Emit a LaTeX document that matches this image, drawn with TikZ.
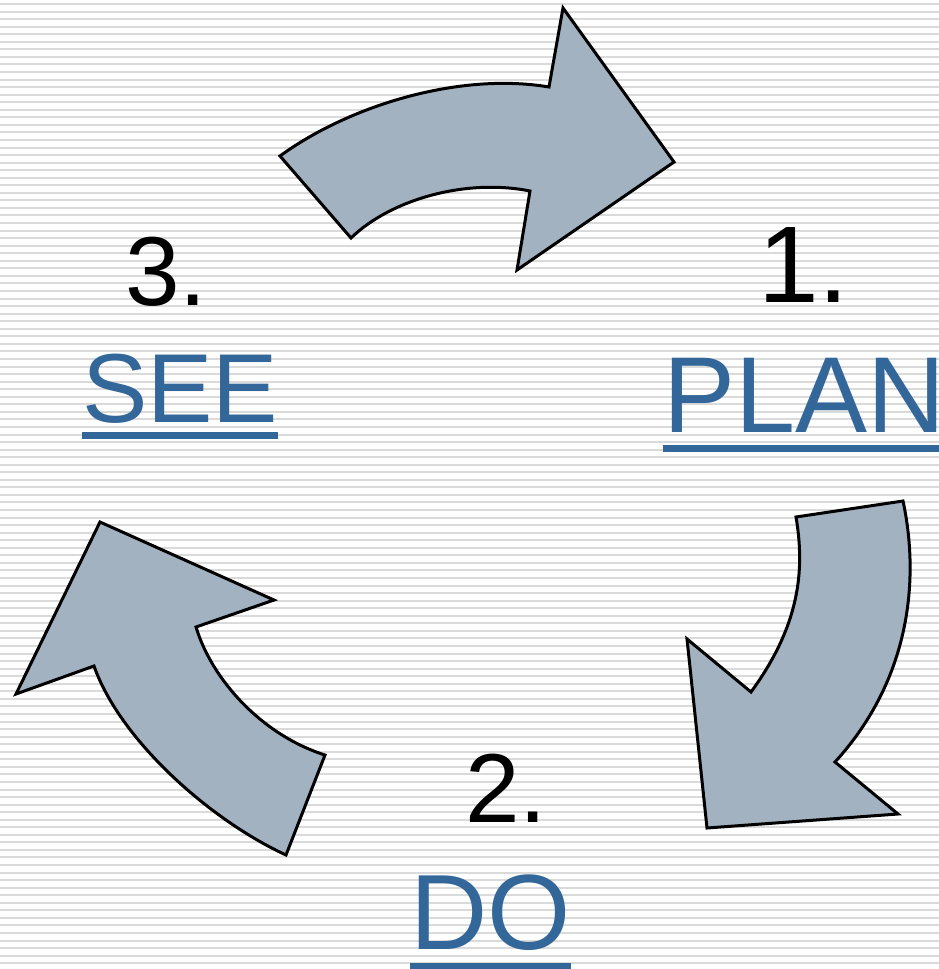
\documentclass[tikz,border=0pt]{standalone}
\usepackage{fontspec}
\setmainfont{Liberation Sans}
\definecolor{bgl}{RGB}{218,218,218}
\definecolor{arrfill}{RGB}{163,178,193}
\definecolor{linkblue}{RGB}{51,102,153}
\begin{document}
\begin{tikzpicture}[x=1pt,y=-1pt,
  bgline/.style={draw=bgl,line width=2pt},
  cyclearrow/.style={draw=black,fill=arrfill,line width=3pt,line join=miter},
  numtext/.style={anchor=base west,inner sep=0pt,outer sep=0pt,text=black},
  wordtext/.style={anchor=base west,inner sep=0pt,outer sep=0pt,text=linkblue},
  uline/.style={draw=linkblue,line width=7pt}]
\useasboundingbox (0,0) rectangle (939,969);
\fill[white] (0,0) rectangle (939,969);
\foreach \i in {0,...,127} \draw[bgline] (0,{round(4+\i*7.553)}) -- (939,{round(4+\i*7.553)});
% top arrow
\draw[cyclearrow] (280,156) .. controls (350,105) and (460,72) .. (549,87)
  -- (563,8) -- (674,162) -- (517,270) -- (530,191)
  .. controls (465,178) and (390,200) .. (351,238) -- cycle;
% right arrow
\draw[cyclearrow] (903,501) .. controls (920,580) and (910,680) .. (835,762)
  -- (898,814) -- (707,828) -- (687,639) -- (751,692)
  .. controls (800,625) and (805,570) .. (796,517) -- cycle;
% left arrow
\draw[cyclearrow] (286,855) .. controls (210,820) and (120,740) .. (94,666)
  -- (16,694) -- (100,522) -- (274,600) -- (196,627)
  .. controls (212,680) and (262,735) .. (325,755) -- cycle;
% texts
\node[numtext,font=\fontsize{109}{109}\selectfont] (n1) at (758,302) {1.};
\node[wordtext,font=\fontsize{108}{108}\selectfont] (plan) at (663,432) {PLAN};
\node[numtext,font=\fontsize{98}{98}\selectfont] (n2) at (465,822) {2.};
\node[wordtext,font=\fontsize{107}{107}\selectfont] (do) at (410,949) {DO};
\node[numtext,font=\fontsize{98}{98}\selectfont] (n3) at (125,305) {3.};
\node[wordtext,font=\fontsize{98}{98}\selectfont] (see) at (82,422) {SEE};
% underlines
\draw[uline] ([yshift=-16pt]plan.base west) -- ([yshift=-16pt]plan.base east);
\draw[uline] ([yshift=-17pt]do.base west) -- ([yshift=-17pt]do.base east);
\draw[uline] ([yshift=-13pt]see.base west) -- ([yshift=-13pt]see.base east);
\end{tikzpicture}
\end{document}
